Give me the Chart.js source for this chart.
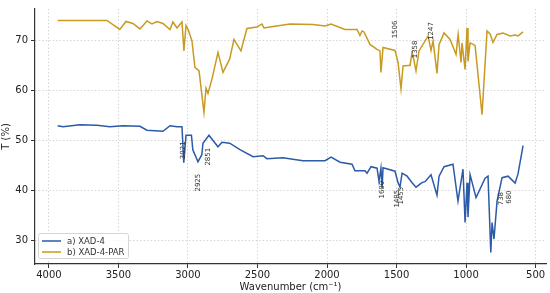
<!DOCTYPE html>
<html>
<head>
<meta charset="utf-8">
<script src="https://cdn.jsdelivr.net/npm/chart.js@4.4.1/dist/chart.umd.min.js"></script>
<style>
  html, body { margin: 0; padding: 0; background: #fff; }
  #wrap { width: 550px; height: 293px; }
</style>
</head>
<body>
<div id="wrap"><canvas id="ftir" width="550" height="293"></canvas></div>
<script>
// ── Data ──
const xadWave = [3937, 3899, 3777, 3655, 3561, 3468, 3345, 3295, 3180, 3129, 3079, 3043, 3030, 3014,
    2975, 2965, 2928, 2900, 2892, 2849, 2784, 2755, 2700, 2626, 2532, 2460, 2432, 2317, 2173, 2101,
    2014, 1971, 1906, 1820, 1799, 1727, 1712, 1683, 1640, 1626, 1612, 1604, 1597, 1511, 1489, 1475,
    1460, 1424, 1388, 1360, 1317, 1295, 1252, 1209, 1194, 1158, 1094, 1058, 1022, 1007, 993, 986,
    971, 928, 863, 842, 822, 813, 799, 777, 741, 698, 647, 626, 590];
const xadT = [52.9, 52.7, 53.1, 53.0, 52.7, 52.9, 52.8, 52.0, 51.8, 52.9, 52.7, 52.7, 45.5, 51.0,
    51.0, 48.1, 45.7, 47.1, 49.4, 51.0, 48.7, 49.6, 49.4, 48.1, 46.7, 46.9, 46.3, 46.5, 45.9, 45.9,
    45.9, 46.6, 45.6, 45.2, 43.9, 43.9, 43.4, 44.7, 44.4, 41.8, 44.4, 40.4, 44.5, 43.8, 41.5, 40.6,
    43.4, 42.8, 41.5, 40.6, 41.5, 41.7, 43.1, 39.0, 42.8, 44.7, 45.2, 37.8, 44.2, 33.5, 41.5, 34.6,
    43.1, 38.5, 42.4, 42.8, 27.5, 33.5, 30.2, 37.8, 42.5, 42.8, 41.4, 43.3, 48.9];

const parWave = [3937, 3583, 3490, 3446, 3396, 3345, 3295, 3259, 3223, 3180, 3129, 3108, 3079, 3043,
    3029, 3014, 3000, 2971, 2950, 2920, 2885, 2870, 2856, 2827, 2784, 2748, 2700, 2669, 2619, 2576,
    2504, 2468, 2453, 2410, 2266, 2101, 2014, 1971, 1871, 1784, 1763, 1748, 1734, 1691, 1640, 1619,
    1612, 1597, 1511, 1489, 1468, 1453, 1417, 1403, 1388, 1381, 1360, 1338, 1273, 1252, 1237, 1209,
    1194, 1158, 1115, 1072, 1057, 1036, 1029, 1007, 993, 986, 971, 935, 885, 849, 827, 806, 777,
    734, 683, 647, 626, 590];
const parT = [74.0, 74.0, 72.2, 73.8, 73.4, 72.3, 73.9, 73.3, 73.8, 73.4, 72.2, 73.7, 72.5, 73.7,
    67.9, 73.0, 72.3, 69.9, 64.6, 63.9, 55.6, 60.4, 59.4, 62.3, 67.6, 63.6, 66.3, 70.2, 67.9, 72.4,
    72.7, 73.3, 72.5, 72.7, 73.3, 73.2, 72.9, 73.3, 72.2, 72.2, 71.0, 71.9, 71.7, 69.2, 68.2, 67.9,
    63.6, 68.6, 68.0, 65.6, 60.3, 64.9, 65.0, 65.0, 67.6, 66.9, 63.9, 67.9, 70.9, 68.0, 69.9, 63.4,
    69.2, 71.5, 70.2, 67.2, 71.2, 65.6, 69.5, 64.2, 72.5, 65.8, 69.5, 69.0, 55.1, 71.9, 71.3, 69.6,
    71.2, 71.5, 70.9, 71.1, 70.9, 71.7];

const xTicks = [4000, 3500, 3000, 2500, 2000, 1500, 1000, 500];
const yTicks = [30, 40, 50, 60, 70];

// peak labels: text, wavenumber, T position of the label centre
const peakText = ['3021', '2925', '2851', '1600', '1485', '1455', '738', '680', '1506', '1358', '1247'];
const peakWave = [3032, 2925, 2853, 1604, 1496, 1467, 748, 690, 1511, 1367, 1252];
const peakT = [48.0, 41.5, 46.7, 40.1, 38.3, 38.9, 38.3, 38.6, 72.2, 68.2, 71.9];

const blue = '#2b5aa8';
const gold = '#c99a22';
const font = '"DejaVu Sans", sans-serif';

const toPoints = (xs, ys) => xs.map((x, i) => ({ x: x, y: ys[i] }));

// rotated peak labels + matplotlib-like legend box
const overlay = {
    id: 'overlay',
    afterDatasetsDraw(chart) {
        const { ctx, scales } = chart;
        ctx.save();
        ctx.font = '7px ' + font;
        ctx.fillStyle = '#333';
        ctx.textAlign = 'center';
        ctx.textBaseline = 'middle';
        peakText.forEach((t, i) => {
            const px = scales.x.getPixelForValue(peakWave[i]);
            const py = scales.y.getPixelForValue(peakT[i]);
            ctx.save();
            ctx.translate(px, py);
            ctx.rotate(-Math.PI / 2);
            ctx.fillText(t, 0, 0);
            ctx.restore();
        });

        // legend
        const lx = 38, ly = 233, lw = 90, lh = 25;
        ctx.fillStyle = 'rgba(255,255,255,0.85)';
        ctx.strokeStyle = '#d5d5d5';
        ctx.lineWidth = 1;
        ctx.beginPath();
        ctx.roundRect(lx + 0.5, ly + 0.5, lw, lh, 2);
        ctx.fill();
        ctx.stroke();
        const items = [['a) XAD-4', blue], ['b) XAD-4-PAR', gold]];
        ctx.font = '8.5px ' + font;
        ctx.textAlign = 'left';
        items.forEach((it, i) => {
            const yy = ly + 8 + i * 11;
            ctx.strokeStyle = it[1];
            ctx.lineWidth = 1.5;
            ctx.beginPath();
            ctx.moveTo(lx + 4, yy);
            ctx.lineTo(lx + 23, yy);
            ctx.stroke();
            ctx.fillStyle = '#333';
            ctx.fillText(it[0], lx + 29, yy + 0.5);
        });
        ctx.restore();
    }
};

new Chart(document.getElementById('ftir'), {
    type: 'line',
    data: {
        datasets: [
            {
                label: 'a) XAD-4',
                data: toPoints(xadWave, xadT),
                borderColor: blue,
                borderWidth: 1.5,
                pointRadius: 0,
                tension: 0,
                fill: false,
            },
            {
                label: 'b) XAD-4-PAR',
                data: toPoints(parWave, parT),
                borderColor: gold,
                borderWidth: 1.5,
                pointRadius: 0,
                tension: 0,
                fill: false,
            }
        ]
    },
    options: {
        responsive: false,
        animation: false,
        layout: { padding: { top: 7, right: 4, left: 0, bottom: 0 } },
        plugins: {
            legend: { display: false },
            tooltip: { enabled: false }
        },
        scales: {
            x: {
                type: 'linear',
                reverse: true,
                min: 425, max: 4100,
                afterBuildTicks: s => { s.ticks = xTicks.map(v => ({ value: v })); },
                afterFit: s => { s.height = 29; },
                grid: { color: '#d6d6d6', tickColor: '#333', tickLength: 4 },
                border: { display: true, color: '#333', width: 1.2, dash: [1.5, 2] },
                ticks: {
                    font: { family: font, size: 10 }, color: '#222', padding: 1, maxRotation: 0,
                    callback: v => String(v)
                },
                title: {
                    display: true, text: 'Wavenumber (cm\u207B\u00B9)',
                    font: { family: font, size: 10 }, color: '#222', padding: { top: 0, bottom: 0 }
                }
            },
            y: {
                min: 25.2, max: 76.3,
                afterBuildTicks: s => { s.ticks = yTicks.map(v => ({ value: v })); },
                afterFit: s => { s.width = 35; },
                grid: { color: '#d6d6d6', tickColor: '#333', tickLength: 4 },
                border: { display: true, color: '#333', width: 1.2, dash: [1.5, 2] },
                ticks: { font: { family: font, size: 10 }, color: '#222', padding: 3, callback: v => String(v) },
                title: {
                    display: true, text: 'T (%)',
                    font: { family: font, size: 10 }, color: '#222', padding: { top: 0, bottom: 0 }
                }
            }
        }
    },
    plugins: [overlay]
});
</script>
</body>
</html>
